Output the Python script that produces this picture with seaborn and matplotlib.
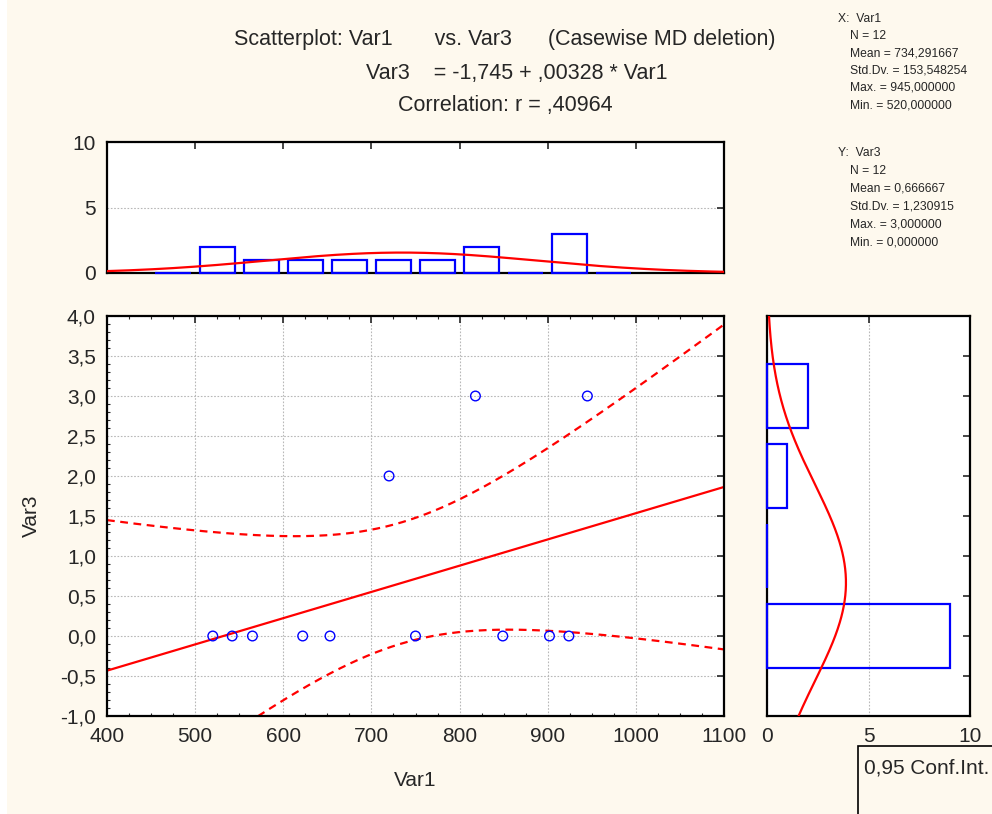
import numpy as np
import pandas as pd
import matplotlib
matplotlib.use("Agg")
import matplotlib.pyplot as plt
from matplotlib.patches import Rectangle
from matplotlib.ticker import MultipleLocator, FuncFormatter
import seaborn as sns

# ---------------- data ----------------
var1 = [520, 542, 565, 622, 653, 750, 849, 902, 924, 720, 818, 945]
var3 = [0, 0, 0, 0, 0, 0, 0, 0, 0, 2, 3, 3]

intercept = -1.745
slope = 0.00328
r_corr = 0.40964
n_obs = 12
x_mean = 734.291667
x_sd = 153.548254
y_mean = 0.666667
y_sd = 1.230915
t_crit = 2.228  # t(0.975, df=10)

x_stats = ["X:  Var1", "N = 12", "Mean = 734,291667", "Std.Dv. = 153,548254",
           "Max. = 945,000000", "Min. = 520,000000"]
y_stats = ["Y:  Var3", "N = 12", "Mean = 0,666667", "Std.Dv. = 1,230915",
           "Max. = 3,000000", "Min. = 0,000000"]

title_lines = ["Scatterplot: Var1       vs. Var3      (Casewise MD deletion)",
               "Var3    = -1,745 + ,00328 * Var1",
               "Correlation: r = ,40964"]

xbin_edges = [450, 500, 550, 600, 650, 700, 750, 800, 850, 900, 950, 1000]
ybin_edges = [-0.5, 0.5, 1.5, 2.5, 3.5]

# ---------------- style ----------------
sns.set_style("white")
plt.rcParams["font.family"] = ["Liberation Sans", "DejaVu Sans"]
BG = "#FEF9EE"
RED = "#FF0000"
BLUE = "#0000FF"
FS = 15
FT = 15.5

fig = plt.figure(figsize=(9.92, 8.14), dpi=100, facecolor=BG)
fig.patches.append(Rectangle((0, 0), 7 / 992, 1, transform=fig.transFigure,
                             facecolor="white", edgecolor="none", zorder=-1))

W, H = 992.0, 814.0
def fax(l, r, t, b):
    return [l / W, 1 - b / H, (r - l) / W, (b - t) / H]

ax_main = fig.add_axes(fax(107, 724, 316, 716))
ax_top = fig.add_axes(fax(107, 724, 142, 273))
ax_right = fig.add_axes(fax(767, 970, 316, 716))

comma1 = FuncFormatter(lambda v, p: f"{v:.1f}".replace(".", ","))

for a in (ax_main, ax_top, ax_right):
    a.set_facecolor("white")
    for s in a.spines.values():
        s.set_visible(True)
        s.set_color("black")
        s.set_linewidth(1.6)

# ---------------- main scatter ----------------
df = pd.DataFrame({"Var1": var1, "Var3": var3})
xs = np.linspace(400, 1100, 300)
yfit = intercept + slope * xs
s_res = y_sd * np.sqrt(1 - r_corr ** 2) * np.sqrt((n_obs - 1) / (n_obs - 2))
se = s_res * np.sqrt(1 / n_obs + (xs - x_mean) ** 2 / ((n_obs - 1) * x_sd ** 2))
lines = pd.DataFrame({"x": xs, "fit": yfit, "lo": yfit - t_crit * se, "hi": yfit + t_crit * se})

sns.lineplot(data=lines, x="x", y="fit", ax=ax_main, color=RED, lw=1.6)
sns.lineplot(data=lines, x="x", y="hi", ax=ax_main, color=RED, lw=1.6)
sns.lineplot(data=lines, x="x", y="lo", ax=ax_main, color=RED, lw=1.6)
ax_main.lines[1].set_linestyle((0, (3.5, 2.5)))
ax_main.lines[2].set_linestyle((0, (3.5, 2.5)))
sns.scatterplot(data=df, x="Var1", y="Var3", ax=ax_main, marker="o", s=48,
                facecolor="none", edgecolor=BLUE, linewidth=1.0, zorder=5)

ax_main.set_xlim(400, 1100)
ax_main.set_ylim(-1, 4)
ax_main.xaxis.set_major_locator(MultipleLocator(100))
ax_main.xaxis.set_minor_locator(MultipleLocator(25))
ax_main.yaxis.set_major_locator(MultipleLocator(0.5))
ax_main.yaxis.set_minor_locator(MultipleLocator(0.1))
ax_main.yaxis.set_major_formatter(comma1)
ax_main.grid(True, which="major", color="#B8B8B8", linestyle=(0, (1.5, 1.5)), lw=0.8)
ax_main.tick_params(which="major", direction="in", length=5, width=1.2,
                    top=True, right=True, labelsize=FS, pad=8)
ax_main.tick_params(which="minor", direction="in", length=2.5, width=0.8,
                    top=True, right=False, left=True, bottom=True)
ax_main.set_xlabel("Var1", fontsize=FS, labelpad=18)
ax_main.set_ylabel("Var3", fontsize=FS, labelpad=14)

# ---------------- top histogram ----------------
sns.histplot(x=var1, bins=xbin_edges, shrink=0.8, fill=False, color=BLUE,
             linewidth=1.6, ax=ax_top)
for p in ax_top.patches:
    p.set_zorder(3)
    p.set_clip_on(False)
xn = np.linspace(400, 1100, 300)
bw = xbin_edges[1] - xbin_edges[0]
ax_top.plot(xn, n_obs * bw * np.exp(-0.5 * ((xn - x_mean) / x_sd) ** 2) / (x_sd * np.sqrt(2 * np.pi)),
            color=RED, lw=1.6, zorder=4)
ax_top.set_xlim(400, 1100)
ax_top.set_ylim(0, 10)
ax_top.set_yticks([0, 5, 10])
ax_top.set_xticks([500, 600, 700, 800, 900, 1000])
ax_top.set_xticklabels([])
ax_top.yaxis.grid(True, color="#B8B8B8", linestyle=(0, (1.5, 1.5)), lw=0.8)
ax_top.xaxis.grid(False)
ax_top.tick_params(direction="in", length=5, width=1.2, top=True, right=True,
                   labelsize=FS, pad=8)
ax_top.set_xlabel("")
ax_top.set_ylabel("")

# ---------------- right histogram ----------------
sns.histplot(y=var3, bins=ybin_edges, shrink=0.8, fill=False, color=BLUE,
             linewidth=1.6, ax=ax_right)
for p in ax_right.patches:
    p.set_zorder(3)
    p.set_clip_on(False)
yn = np.linspace(-1, 4, 300)
bwy = ybin_edges[1] - ybin_edges[0]
ax_right.plot(n_obs * bwy * np.exp(-0.5 * ((yn - y_mean) / y_sd) ** 2) / (y_sd * np.sqrt(2 * np.pi)), yn,
              color=RED, lw=1.6, zorder=4)
ax_right.set_ylim(-1, 4)
ax_right.set_xlim(0, 10)
ax_right.set_xticks([0, 5, 10])
ax_right.yaxis.set_major_locator(MultipleLocator(0.5))
ax_right.set_yticklabels([])
ax_right.xaxis.grid(True, color="#B8B8B8", linestyle=(0, (1.5, 1.5)), lw=0.8)
ax_right.yaxis.grid(False)
ax_right.tick_params(axis="y", direction="in", length=5, width=1.2, left=False, right=True)
ax_right.tick_params(axis="x", direction="in", length=5, width=1.2, top=True,
                     labelsize=FS, pad=8)
ax_right.set_xlabel("")
ax_right.set_ylabel("")

# ---------------- titles ----------------
fig.text(505 / W, 1 - 40 / H, title_lines[0], ha="center", va="center", fontsize=FT)
fig.text(517 / W, 1 - 73 / H, title_lines[1], ha="center", va="center", fontsize=FT)
fig.text(505 / W, 1 - 106 / H, title_lines[2], ha="center", va="center", fontsize=FT)

# ---------------- stats text ----------------
for i, t in enumerate(x_stats):
    x0 = 838 if i == 0 else 850
    fig.text(x0 / W, 1 - (19 + i * 17.2) / H, t, ha="left", va="center", fontsize=8.7)
for i, t in enumerate(y_stats):
    x0 = 838 if i == 0 else 850
    fig.text(x0 / W, 1 - (153 + i * 17.8) / H, t, ha="left", va="center", fontsize=8.7)

# ---------------- legend box ----------------
fig.patches.append(Rectangle((858 / W, -0.02), 0.2, (814 - 746) / H + 0.02,
                             transform=fig.transFigure, facecolor=BG,
                             edgecolor="black", lw=1.2, zorder=10))
fig.text(864 / W, 1 - 768 / H, "0,95 Conf.Int.", ha="left", va="center",
         fontsize=FS, zorder=11)

fig.savefig("out.png", dpi=100, facecolor=BG)
